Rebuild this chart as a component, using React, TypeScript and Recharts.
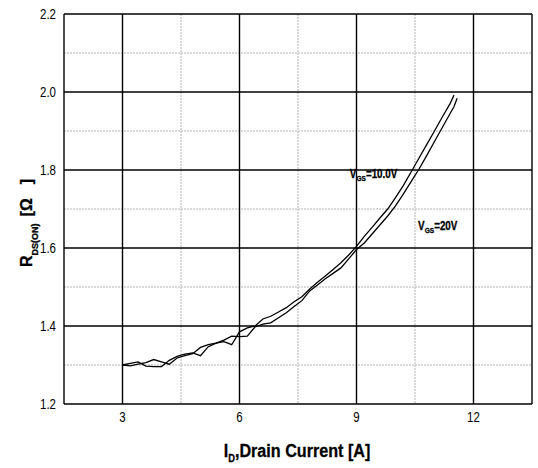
import { LineChart, Line, XAxis, YAxis, CartesianGrid, ReferenceDot } from 'recharts'

// drain current [A], shared sample points
const current = [
  3.0, 3.2, 3.4, 3.6, 3.8, 4.0, 4.2, 4.4, 4.6, 4.8, 5.0, 5.2, 5.4, 5.6, 5.8,
  6.0, 6.2, 6.4, 6.6, 6.8, 7.0, 7.2, 7.4, 7.6, 7.8, 8.0, 8.2, 8.4, 8.6, 8.8,
  9.0, 9.2, 9.4, 9.6, 9.8, 10.0, 10.2, 10.4, 10.6, 10.8, 11.0, 11.2, 11.4, 11.5,
]

// R_DS(on) [ohm] at VGS = 10.0V
const rdsVgs10 = [
  1.300, 1.304, 1.308, 1.297, 1.296, 1.296, 1.312, 1.322, 1.328, 1.331, 1.324, 1.347, 1.356, 1.360, 1.352,
  1.385, 1.395, 1.400, 1.418, 1.425, 1.436, 1.447, 1.462, 1.475, 1.495, 1.512, 1.528, 1.545, 1.562, 1.582,
  1.604, 1.630, 1.653, 1.677, 1.700, 1.729, 1.760, 1.795, 1.830, 1.865, 1.900, 1.936, 1.970, 1.992,
]

// R_DS(on) [ohm] at VGS = 20V (one extra point at the end)
const currentVgs20 = [...current, 11.58]
const rdsVgs20 = [
  1.300, 1.298, 1.302, 1.306, 1.314, 1.308, 1.302, 1.318, 1.324, 1.329, 1.345, 1.352, 1.356, 1.364, 1.374,
  1.373, 1.374, 1.398, 1.405, 1.408, 1.421, 1.434, 1.450, 1.465, 1.490, 1.505, 1.521, 1.535, 1.549, 1.572,
  1.596, 1.613, 1.636, 1.659, 1.682, 1.708, 1.738, 1.770, 1.802, 1.837, 1.873, 1.909, 1.945, 1.962, 1.984,
]

const xMajor = [3, 6, 9, 12]
const xMinor = [4.5, 7.5, 10.5]
const yMajor = [1.2, 1.4, 1.6, 1.8, 2.0, 2.2]
const yMinor = [1.3, 1.5, 1.7, 1.9, 2.1]

const vgs10 = current.map((x, i) => ({ x, r: rdsVgs10[i] }))
const vgs20 = currentVgs20.map((x, i) => ({ x, r: rdsVgs20[i] }))

const FONT = '"Liberation Sans", Arial, sans-serif'
const SQUEEZE = 0.82 // fake a narrow face by compressing horizontally

function NarrowTick({ x, y, payload, textAnchor, axis }: any) {
  const label = axis === 'y' ? payload.value.toFixed(1) : String(payload.value)
  return (
    <g transform={`translate(${x} ${y}) scale(${SQUEEZE} 1)`}>
      <text
        x={0}
        y={0}
        dy={axis === 'y' ? '0.36em' : '0.71em'}
        textAnchor={textAnchor}
        fontFamily={FONT}
        fontSize={14}
        fill="#000"
      >
        {label}
      </text>
    </g>
  )
}

function CurveLabel({ viewBox, main, sub, rest }: any) {
  const x = viewBox?.x ?? 0
  const y = viewBox?.y ?? 0
  return (
    <g transform={`translate(${x} ${y}) scale(${SQUEEZE} 1)`}>
      <text x={0} y={0} fontFamily={FONT} fontWeight="bold" fontSize={12} fill="#000" stroke="#000" strokeWidth={0.3}>
        {main}
        <tspan fontSize={8} dy={3}>{sub}</tspan>
        <tspan dy={-3}>{rest}</tspan>
      </text>
    </g>
  )
}

export default function App() {
  return (
    <div style={{ position: 'absolute', left: 0, top: 0, background: '#fff' }}>
      <LineChart width={538} height={468} margin={{ top: 14, right: 6, left: 0, bottom: 0 }}>
        <CartesianGrid
          horizontalValues={yMinor}
          verticalValues={xMinor}
          stroke="#b4b4b4"
          strokeDasharray="2 1"
          strokeWidth={1}
        />
        <CartesianGrid
          horizontalValues={yMajor}
          verticalValues={[1.5, ...xMajor, 13.5]}
          stroke="#000"
          strokeWidth={1.4}
        />
        <XAxis
          type="number"
          dataKey="x"
          domain={[1.5, 13.5]}
          ticks={xMajor}
          allowDataOverflow
          axisLine={false}
          tickLine={false}
          tick={(p: any) => <NarrowTick {...p} axis="x" />}
          height={64}
          label={{
            content: () => (
              <g transform="translate(297 457) scale(0.85 1)">
                <text
                  x={0}
                  y={0}
                  textAnchor="middle"
                  fontFamily={FONT}
                  fontWeight="bold"
                  fontSize={19}
                  fill="#000"
                  stroke="#000"
                  strokeWidth={0.3}
                >
                  I<tspan fontSize={11} dy={5}>D</tspan>
                  <tspan dy={-5}>,Drain Current [A]</tspan>
                </text>
              </g>
            ),
          }}
        />
        <YAxis
          type="number"
          domain={[1.2, 2.2]}
          ticks={yMajor}
          allowDataOverflow
          axisLine={false}
          tickLine={false}
          tick={(p: any) => <NarrowTick {...p} axis="y" />}
          width={64}
          label={{
            content: () => (
              <text
                x={0}
                y={0}
                transform="translate(32 267) rotate(-90)"
                fontFamily={FONT}
                fontWeight="bold"
                fontSize={16}
                fill="#000"
                stroke="#000"
                strokeWidth={0.3}
              >
                R<tspan fontSize={9} dy={6}>DS(ON)</tspan>
                <tspan dy={-6} dx={7}>[{'\u03a9'}</tspan>
                <tspan dx={14}>]</tspan>
              </text>
            ),
          }}
        />
        <Line data={vgs10} dataKey="r" type="linear" stroke="#000" strokeWidth={1.3} dot={false} isAnimationActive={false} />
        <Line data={vgs20} dataKey="r" type="linear" stroke="#000" strokeWidth={1.3} dot={false} isAnimationActive={false} />
        <ReferenceDot
          x={8.83}
          y={1.779}
          r={0}
          fill="none"
          stroke="none"
          label={{ content: (p: any) => <CurveLabel {...p} main="V" sub="GS" rest="=10.0V" /> }}
        />
        <ReferenceDot
          x={10.58}
          y={1.646}
          r={0}
          fill="none"
          stroke="none"
          label={{ content: (p: any) => <CurveLabel {...p} main="V" sub="GS" rest="=20V" /> }}
        />
      </LineChart>
    </div>
  )
}
